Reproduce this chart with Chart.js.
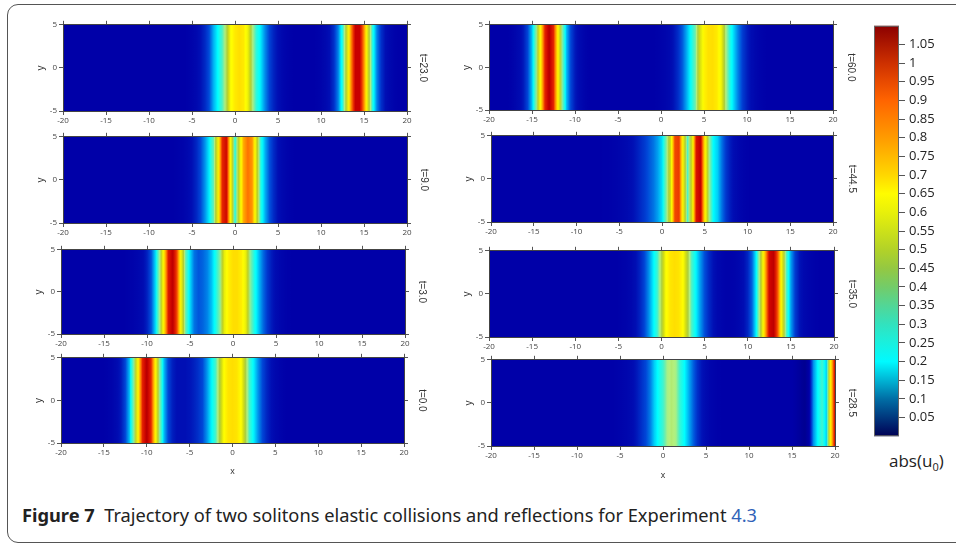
<!DOCTYPE html>
<html lang="en">
<head>
<meta charset="UTF-8">
<title>Figure 7 - two solitons</title>
<script src="https://cdn.jsdelivr.net/npm/chart.js"></script>
<style>
  body { margin: 0; background: #fff; font-family: 'Open Sans', sans-serif; }
  #fig { position: relative; width: 956px; height: 546px; overflow: hidden; }
  .frame { position: absolute; left: 7px; top: 4px; width: 990px; height: 539px; border: 1.5px solid #555; border-radius: 11px; box-sizing: border-box; }
  #fig canvas { position: absolute; }
  #unit { position: absolute; left: 889px; top: 452px; font-size: 17px; line-height: 17px; color: #222; }
  #unit sub { font-size: 11px; }
  #caption { position: absolute; left: 22px; top: 506px; font-family: 'Noto Sans', sans-serif; font-size: 18px; line-height: 18px; color: #222; white-space: nowrap; transform-origin: left top; }
  #caption a { color: #2f62b8; text-decoration: none; }
</style>
</head>
<body>
<div id="fig">
  <div class="frame"></div>
  <div id="unit">abs(u<sub>0</sub>)</div>
  <div id="caption"><b>Figure 7</b>&nbsp; Trajectory of two solitons elastic collisions and reflections for Experiment <a>4.3</a></div>
</div>
<script>
// x positions of the samples (same for every panel)
const xGrid = [-20,-19.5,-19,-18.5,-18,-17.5,-17,-16.5,-16,-15.5,
  -15,-14.5,-14,-13.5,-13,-12.5,-12,-11.5,-11,-10.5,
  -10,-9.5,-9,-8.5,-8,-7.5,-7,-6.5,-6,-5.5,
  -5,-4.5,-4,-3.5,-3,-2.5,-2,-1.5,-1,-0.5,
  0,0.5,1,1.5,2,2.5,3,3.5,4,4.5,
  5,5.5,6,6.5,7,7.5,8,8.5,9,9.5,
  10,10.5,11,11.5,12,12.5,13,13.5,14,14.5,
  15,15.5,16,16.5,17,17.5,18,18.5,19,19.5,
  20];

// abs(u) read along x for each time slice
const u_t23 = [0.02,0.02,0.02,0.02,0.02,0.02,0.02,0.02,0.02,0.02,
  0.02,0.02,0.02,0.02,0.02,0.02,0.02,0.02,0.02,0.02,
  0.02,0.02,0.02,0.02,0.02,0.02,0.02,0.02,0.02,0.022,
  0.028,0.036,0.052,0.073,0.105,0.17,0.22,0.28,0.40,0.59,
  0.64,0.66,0.64,0.56,0.37,0.255,0.205,0.145,0.097,0.068,
  0.049,0.034,0.027,0.022,0.02,0.02,0.02,0.02,0.02,0.022,
  0.027,0.035,0.05,0.08,0.14,0.25,0.47,0.79,1.02,1.02,
  0.79,0.47,0.25,0.14,0.08,0.05,0.035,0.027,0.022,0.02,
  0.02];
const u_t9 = [0.02,0.02,0.02,0.02,0.02,0.02,0.02,0.02,0.02,0.02,
  0.02,0.02,0.02,0.02,0.02,0.02,0.02,0.02,0.02,0.02,
  0.02,0.02,0.02,0.02,0.02,0.02,0.021,0.024,0.028,0.035,
  0.05,0.07,0.1,0.15,0.21,0.3,0.55,0.92,1.0,0.6,
  0.24,0.5,0.75,0.83,0.78,0.5,0.25,0.17,0.11,0.075,
  0.05,0.035,0.028,0.023,0.02,0.02,0.02,0.02,0.02,0.02,
  0.02,0.02,0.02,0.02,0.02,0.02,0.02,0.02,0.02,0.02,
  0.02,0.02,0.02,0.02,0.02,0.02,0.02,0.02,0.02,0.02,
  0.02];
const u_t3 = [0.02,0.02,0.02,0.02,0.02,0.02,0.02,0.02,0.02,0.02,
  0.02,0.02,0.02,0.02,0.02,0.021,0.024,0.028,0.033,0.043,
  0.065,0.11,0.2,0.36,0.66,0.96,1.04,0.87,0.55,0.3,
  0.2,0.13,0.11,0.12,0.14,0.18,0.24,0.33,0.55,0.63,
  0.66,0.66,0.63,0.55,0.33,0.24,0.18,0.125,0.085,0.06,
  0.042,0.032,0.026,0.022,0.02,0.02,0.02,0.02,0.02,0.02,
  0.02,0.02,0.02,0.02,0.02,0.02,0.02,0.02,0.02,0.02,
  0.02,0.02,0.02,0.02,0.02,0.02,0.02,0.02,0.02,0.02,
  0.02];
const u_t0 = [0.02,0.02,0.02,0.02,0.02,0.02,0.02,0.02,0.02,0.02,
  0.02,0.024,0.03,0.04,0.06,0.1,0.18,0.33,0.62,0.93,
  1.05,0.93,0.62,0.33,0.18,0.1,0.065,0.05,0.05,0.05,
  0.055,0.065,0.08,0.1,0.15,0.21,0.27,0.42,0.6,0.65,
  0.66,0.65,0.6,0.42,0.27,0.21,0.15,0.1,0.07,0.05,
  0.035,0.028,0.022,0.02,0.02,0.02,0.02,0.02,0.02,0.02,
  0.02,0.02,0.02,0.02,0.02,0.02,0.02,0.02,0.02,0.02,
  0.02,0.02,0.02,0.02,0.02,0.02,0.02,0.02,0.02,0.02,
  0.02];
const u_t60 = [0.02,0.02,0.02,0.02,0.02,0.022,0.03,0.04,0.06,0.1,
  0.18,0.33,0.62,0.93,1.05,0.93,0.62,0.33,0.18,0.1,
  0.06,0.04,0.03,0.022,0.02,0.02,0.02,0.02,0.02,0.02,
  0.02,0.02,0.02,0.02,0.02,0.02,0.02,0.02,0.02,0.022,
  0.025,0.03,0.037,0.055,0.078,0.115,0.17,0.23,0.31,0.5,
  0.62,0.655,0.66,0.64,0.57,0.37,0.25,0.19,0.135,0.09,
  0.064,0.045,0.033,0.027,0.022,0.02,0.02,0.02,0.02,0.02,
  0.02,0.02,0.02,0.02,0.02,0.02,0.02,0.02,0.02,0.02,
  0.02];
const u_t44 = [0.02,0.02,0.02,0.02,0.02,0.02,0.02,0.02,0.02,0.02,
  0.02,0.02,0.02,0.02,0.02,0.02,0.02,0.02,0.02,0.02,
  0.02,0.02,0.02,0.02,0.02,0.02,0.021,0.022,0.024,0.027,
  0.03,0.034,0.04,0.048,0.06,0.075,0.09,0.11,0.13,0.16,
  0.2,0.32,0.5,0.88,0.9,0.55,0.27,0.5,0.97,1.03,
  0.65,0.35,0.22,0.19,0.13,0.085,0.06,0.042,0.032,0.026,
  0.022,0.02,0.02,0.02,0.02,0.02,0.02,0.02,0.02,0.02,
  0.02,0.02,0.02,0.02,0.02,0.02,0.02,0.02,0.02,0.02,
  0.02];
const u_t35 = [0.02,0.02,0.02,0.02,0.02,0.02,0.02,0.02,0.02,0.02,
  0.02,0.02,0.02,0.02,0.02,0.02,0.02,0.02,0.02,0.02,
  0.02,0.02,0.02,0.02,0.02,0.02,0.02,0.02,0.02,0.02,
  0.021,0.024,0.028,0.034,0.048,0.068,0.097,0.145,0.205,0.265,
  0.41,0.59,0.645,0.66,0.65,0.6,0.44,0.28,0.215,0.155,
  0.105,0.073,0.052,0.036,0.03,0.026,0.026,0.028,0.034,0.047,
  0.07,0.12,0.22,0.42,0.72,1.0,1.04,0.85,0.53,0.28,
  0.16,0.09,0.055,0.037,0.03,0.025,0.022,0.02,0.02,0.02,
  0.02];
const u_t28 = [0.02,0.02,0.02,0.02,0.02,0.02,0.02,0.02,0.02,0.02,
  0.02,0.02,0.02,0.02,0.02,0.02,0.02,0.02,0.02,0.02,
  0.02,0.02,0.02,0.02,0.02,0.02,0.02,0.02,0.022,0.024,
  0.027,0.03,0.035,0.045,0.06,0.08,0.1,0.135,0.19,0.23,
  0.27,0.35,0.37,0.35,0.26,0.22,0.17,0.12,0.08,0.055,
  0.04,0.03,0.025,0.022,0.02,0.02,0.02,0.02,0.02,0.02,
  0.02,0.02,0.02,0.02,0.02,0.02,0.02,0.02,0.02,0.02,
  0.02,0.018,0.015,0.012,0.02,0.15,0.22,0.27,0.19,0.62,
  1.0];

// colour bar ticks
const barTicks = [0.05,0.1,0.15,0.2,0.25,0.3,0.35,0.4,0.45,0.5,0.55,0.6,0.65,0.7,0.75,0.8,0.85,0.9,0.95,1,1.05];

// colour maps (value -> rgb)
const panelMap = [
  [0.00,[0,0,110]], [0.02,[0,0,168]], [0.05,[0,15,180]], [0.10,[0,70,215]],
  [0.16,[0,160,240]], [0.22,[0,255,255]], [0.30,[100,238,180]], [0.36,[180,240,125]],
  [0.42,[170,205,60]], [0.50,[210,220,20]], [0.60,[255,255,0]], [0.72,[255,190,0]],
  [0.82,[255,120,0]], [0.92,[230,40,0]], [1.02,[200,0,0]], [1.10,[150,0,0]]
];
const barMap = [
  [0.00,[0,0,85]], [0.05,[0,55,125]], [0.10,[0,110,165]], [0.15,[0,180,212]],
  [0.20,[0,250,255]], [0.25,[25,240,222]], [0.30,[50,226,190]], [0.35,[82,214,150]],
  [0.40,[115,204,105]], [0.45,[148,200,66]], [0.50,[178,210,40]], [0.55,[205,225,25]],
  [0.60,[232,240,10]], [0.65,[255,252,0]], [0.70,[255,215,0]], [0.75,[255,185,0]],
  [0.80,[255,155,0]], [0.85,[255,128,0]], [0.90,[255,100,0]], [0.95,[232,74,0]],
  [1.00,[205,48,0]], [1.10,[140,0,0]]
];

function mapColor(map, v) {
  if (v <= map[0][0]) return 'rgb(' + map[0][1].join(',') + ')';
  for (let i = 1; i < map.length; i++) {
    if (v <= map[i][0]) {
      const [v0, c0] = map[i - 1], [v1, c1] = map[i];
      const f = (v - v0) / (v1 - v0);
      return 'rgb(' + c0.map((c, k) => Math.round(c + f * (c1[k] - c))).join(',') + ')';
    }
  }
  return 'rgb(' + map[map.length - 1][1].join(',') + ')';
}

// fills the plot area with the stripes, placed with the x scale
const stripes = {
  id: 'stripes',
  beforeDraw(chart) {
    const { ctx, chartArea: a, scales: { x } } = chart;
    const pts = chart.data.datasets[0].data;
    const w = a.right - a.left;
    const g = ctx.createLinearGradient(a.left, 0, a.right, 0);
    for (let i = 0; i < pts.length; i++) {
      const p0 = pts[i], p1 = pts[i + 1];
      const steps = p1 ? 4 : 1;
      for (let s = 0; s < steps; s++) {
        const f = s / steps;
        const xv = p1 ? p0.x + f * (p1.x - p0.x) : p0.x;
        const vv = p1 ? p0.v + f * (p1.v - p0.v) : p0.v;
        const pos = (x.getPixelForValue(xv) - a.left) / w;
        g.addColorStop(Math.min(1, Math.max(0, pos)), mapColor(panelMap, vv));
      }
    }
    ctx.save();
    ctx.fillStyle = g;
    ctx.fillRect(a.left, a.top, w, a.bottom - a.top);
    ctx.restore();
  }
};

const colorBar = {
  id: 'colorBar',
  beforeDraw(chart) {
    const { ctx, chartArea: a, scales: { y } } = chart;
    const h = a.bottom - a.top;
    const g = ctx.createLinearGradient(0, a.bottom, 0, a.top);
    barMap.forEach(([v, c]) => {
      g.addColorStop((a.bottom - y.getPixelForValue(v)) / h, 'rgb(' + c.join(',') + ')');
    });
    ctx.save();
    ctx.fillStyle = g;
    ctx.fillRect(a.left, a.top, a.right - a.left, h);
    ctx.strokeStyle = '#666';
    ctx.lineWidth = 1;
    ctx.strokeRect(a.left + 0.5, a.top + 0.5, a.right - a.left - 1, h - 1);
    ctx.restore();
  }
};

// panel layout: plot box [left, right, top, bottom], x of the t label
const panels = [
  { t: 't=23.0', u: u_t23, box: [63, 407, 24, 111], tx: 422.5 },
  { t: 't=9.0',  u: u_t9,  box: [63, 407, 136, 223], tx: 423.5 },
  { t: 't=3.0',  u: u_t3,  box: [61, 405, 249, 334], tx: 422 },
  { t: 't=0.0',  u: u_t0,  box: [61, 404, 357, 443], tx: 422, xTitleY: 472 },
  { t: 't=60.0', u: u_t60, box: [489, 833, 24, 110], tx: 851 },
  { t: 't=44.5', u: u_t44, box: [491, 833, 135, 222], tx: 852 },
  { t: 't=35.0', u: u_t35, box: [489, 834, 250, 337], tx: 851.5 },
  { t: 't=28.5', u: u_t28, box: [491, 835, 359, 446], tx: 851.5, xTitleY: 476 }
];

const fig = document.getElementById('fig');
const tickFont = { family: "'Open Sans', sans-serif", size: 8 };
const edge = { display: true, color: '#444', width: 1 };
const marks = { drawOnChartArea: false, drawTicks: true, tickLength: 4, color: '#555' };

function addCanvas(left, top, w, h) {
  const cv = document.createElement('canvas');
  cv.width = w; cv.height = h;
  cv.style.left = left + 'px'; cv.style.top = top + 'px';
  cv.style.width = w + 'px'; cv.style.height = h + 'px';
  fig.appendChild(cv);
  return cv;
}

panels.forEach(p => {
  const [l, r, t, b] = p.box;
  const bottomH = p.xTitleY ? 40 : 18;
  const W = (r - l) + 42 + 34, H = (b - t) + 6 + bottomH;
  const cv = addCanvas(l - 42, t - 6, W, H);
  new Chart(cv, {
    type: 'line',
    data: {
      datasets: [{
        data: xGrid.map((x, i) => ({ x: x, y: 0, v: p.u[i] })),
        showLine: false, pointRadius: 0
      }]
    },
    options: {
      responsive: false, animation: false, devicePixelRatio: 1, events: [],
      layout: { padding: 0 },
      plugins: { legend: { display: false }, tooltip: { enabled: false } },
      scales: {
        x: {
          type: 'linear', position: 'bottom', min: -20, max: 20,
          ticks: { stepSize: 5, font: tickFont, color: '#444', padding: 1, autoSkip: false, maxRotation: 0 },
          grid: marks, border: edge,
          title: p.xTitleY
            ? { display: true, text: 'x', font: { size: 9 }, color: '#333', padding: { top: 0, bottom: b + bottomH - p.xTitleY - 5.4 } }
            : { display: false },
          afterFit: s => { s.height = bottomH; }
        },
        x2: {
          type: 'linear', position: 'top', min: -20, max: 20,
          ticks: { stepSize: 5, display: false },
          grid: marks, border: edge,
          afterFit: s => { s.height = 6; }
        },
        y: {
          type: 'linear', position: 'left', min: -5, max: 5,
          ticks: { stepSize: 5, font: tickFont, color: '#444', padding: 2 },
          grid: marks, border: edge,
          title: { display: true, text: 'y', font: { size: 10 }, color: '#333', padding: { top: 14, bottom: 0 } },
          afterFit: s => { s.width = 42; }
        },
        y2: {
          type: 'linear', position: 'right', min: -5, max: 5,
          ticks: { stepSize: 5, display: false },
          grid: marks, border: edge,
          title: { display: true, text: p.t, font: { size: 10 }, color: '#333', padding: { top: (r + 34) - p.tx - 6, bottom: 0 } },
          afterFit: s => { s.width = 34; }
        }
      }
    },
    plugins: [stripes]
  });
});

// colour bar
new Chart(addCanvas(874, 14, 80, 434), {
  type: 'line',
  data: { datasets: [] },
  options: {
    responsive: false, animation: false, devicePixelRatio: 1, events: [],
    layout: { padding: { top: 10, bottom: 10, left: 0, right: 0 } },
    plugins: { legend: { display: false }, tooltip: { enabled: false } },
    scales: {
      x: { type: 'linear', display: false, min: 0, max: 1 },
      y: {
        type: 'linear', position: 'right', min: 0, max: 1.1,
        afterBuildTicks: s => { s.ticks = barTicks.map(v => ({ value: v })); },
        ticks: { callback: v => String(+v.toFixed(2)), font: { family: "'Open Sans', sans-serif", size: 13 }, color: '#222', padding: 4 },
        grid: { drawOnChartArea: false, drawTicks: true, tickLength: 6, color: '#555' },
        border: { display: false },
        afterFit: s => { s.width = 55; }
      }
    }
  },
  plugins: [colorBar]
});

// squeeze the caption to the width it has in the figure
const cap = document.getElementById('caption');
const capW = cap.getBoundingClientRect().width;
cap.style.transform = 'scaleX(' + (735 / capW) + ')';
</script>
</body>
</html>
